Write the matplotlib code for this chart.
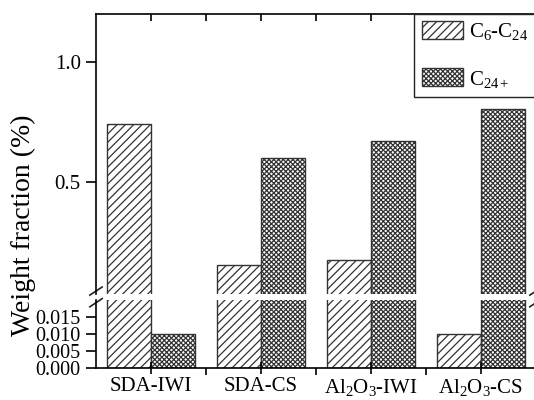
import numpy as np
import matplotlib.pyplot as plt
from matplotlib.ticker import FixedLocator

plt.rcParams['font.family'] = ['Liberation Serif', 'DejaVu Serif']
plt.rcParams['mathtext.fontset'] = 'custom'
plt.rcParams['mathtext.rm'] = 'Liberation Serif'
plt.rcParams['mathtext.it'] = 'Liberation Serif'
plt.rcParams['hatch.linewidth'] = 0.9
plt.rcParams['axes.linewidth'] = 1.2

# data
categories = ['SDA-IWI', 'SDA-CS', 'Al$_2$O$_3$-IWI', 'Al$_2$O$_3$-CS']
c6_c24 = [0.741, 0.151, 0.171, 0.010]
c24_plus = [0.010, 0.599, 0.671, 0.802]
series_labels = ['C$_6$-C$_{24}$', 'C$_{24+}$']

W, H = 534, 400
fig = plt.figure(figsize=(W / 100, H / 100), dpi=100)
left = 96 / W
width = (536 - 96) / W
ax_top = fig.add_axes([left, 1 - 294 / H, width, (294 - 14) / H])
ax_bot = fig.add_axes([left, 1 - 368 / H, width, (368 - 300) / H], sharex=ax_top)

x = np.arange(len(categories))
bw = 0.4
for ax in (ax_top, ax_bot):
    ax.bar(x - bw / 2, c6_c24, bw, facecolor='white', edgecolor='#333333',
           hatch='////', linewidth=1.0, label=series_labels[0])
    ax.bar(x + bw / 2, c24_plus, bw, facecolor='white', edgecolor='#333333',
           hatch='xxxxxxx', linewidth=1.0, label=series_labels[1])

ax_top.set_ylim(0.03, 1.2)
ax_bot.set_ylim(0, 0.02)
ax_top.set_xlim(-0.5, 3.5)

ax_top.set_yticks([0.5, 1.0])
ax_top.set_yticklabels(['0.5', '1.0'])
ax_bot.set_yticks([0.0, 0.005, 0.010, 0.015])
ax_bot.set_yticklabels(['0.000', '0.005', '0.010', '0.015'])

ax_top.spines['bottom'].set_visible(False)
ax_bot.spines['top'].set_visible(False)

ax_top.tick_params(axis='y', direction='out', length=7, width=1.2, labelsize=15, pad=4)
ax_bot.tick_params(axis='y', direction='out', length=7, width=1.2, labelsize=14.5, pad=4)
for ax in (ax_top, ax_bot):
    ax.xaxis.set_minor_locator(FixedLocator([0.5, 1.5, 2.5]))

ax_top.tick_params(axis='x', which='both', bottom=False, labelbottom=False,
                   top=True, direction='in', length=5, width=1.2)
ax_bot.set_xticks(x)
ax_bot.set_xticklabels(categories)
ax_bot.tick_params(axis='x', which='major', direction='inout', length=9, width=1.2,
                   labelsize=15, pad=2)
ax_bot.tick_params(axis='x', which='minor', direction='out', length=5, width=1.2)

# break marks
d = dict(color='#222222', lw=1.2, clip_on=False)
for xf in (0, 1):
    ax_top.plot([xf - 0.014, xf + 0.014], [-0.004, 0.025], transform=ax_top.transAxes, **d)
    ax_bot.plot([xf - 0.014, xf + 0.014], [0.90, 1.02], transform=ax_bot.transAxes, **d)

fig.text(23 / W, 1 - 225 / H, 'Weight fraction (%)', rotation=90, fontsize=20,
         ha='center', va='center')

leg = ax_top.legend(loc='upper right', bbox_to_anchor=(1.0, 1.0), borderaxespad=0,
                    fontsize=15, handlelength=2.0, handleheight=0.95,
                    handletextpad=0.3, labelspacing=1.25, fancybox=False,
                    edgecolor='#222222', framealpha=1, borderpad=0.35)
leg.get_frame().set_linewidth(1.0)

fig.savefig('out.png', dpi=100)
